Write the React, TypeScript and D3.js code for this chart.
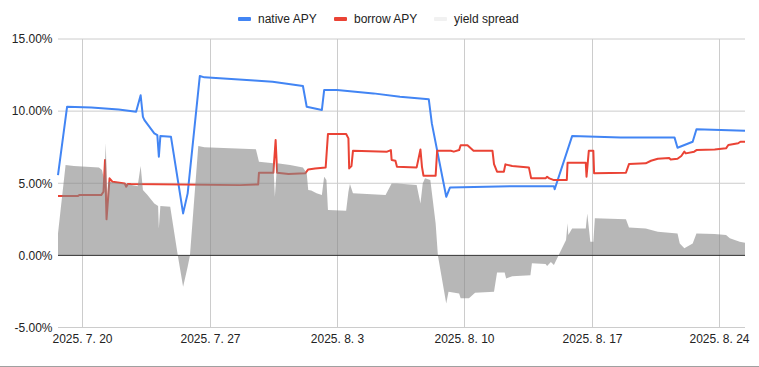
import { area, line, scaleLinear, scaleTime, timeFormat, timeParse, extent } from "d3";

const parse = timeParse("%Y-%m-%dT%H:%M");

const nativeApy: [string, number][] = [
  ["2025-07-18T16:00", 5.57],
  ["2025-07-19T04:00", 10.31],
  ["2025-07-20T12:00", 10.25],
  ["2025-07-22T00:00", 10.12],
  ["2025-07-22T23:00", 9.96],
  ["2025-07-23T05:00", 11.1],
  ["2025-07-23T08:00", 9.6],
  ["2025-07-23T10:00", 9.38],
  ["2025-07-23T23:00", 8.46],
  ["2025-07-24T03:00", 8.34],
  ["2025-07-24T05:00", 6.84],
  ["2025-07-24T07:00", 8.27],
  ["2025-07-24T21:00", 8.22],
  ["2025-07-25T13:00", 2.91],
  ["2025-07-25T19:00", 4.3],
  ["2025-07-26T11:00", 12.43],
  ["2025-07-26T17:00", 12.34],
  ["2025-07-29T11:00", 12.12],
  ["2025-07-30T11:00", 12.04],
  ["2025-08-01T03:00", 11.74],
  ["2025-08-01T08:00", 10.3],
  ["2025-08-02T04:00", 10.08],
  ["2025-08-02T07:00", 11.46],
  ["2025-08-03T00:00", 11.46],
  ["2025-08-05T00:00", 11.23],
  ["2025-08-06T11:00", 11.0],
  ["2025-08-08T01:00", 10.82],
  ["2025-08-08T05:00", 9.15],
  ["2025-08-09T00:00", 4.06],
  ["2025-08-09T05:00", 4.71],
  ["2025-08-12T17:00", 4.8],
  ["2025-08-14T22:00", 4.8],
  ["2025-08-14T23:00", 4.58],
  ["2025-08-15T22:00", 8.27],
  ["2025-08-18T14:00", 8.18],
  ["2025-08-21T13:00", 8.18],
  ["2025-08-21T17:00", 7.46],
  ["2025-08-22T13:00", 7.88],
  ["2025-08-22T18:00", 8.74],
  ["2025-08-25T10:00", 8.64],
];

const borrowApy: [string, number][] = [
  ["2025-07-18T16:00", 4.11],
  ["2025-07-19T18:00", 4.11],
  ["2025-07-19T20:00", 4.18],
  ["2025-07-21T01:00", 4.18],
  ["2025-07-21T04:00", 4.41],
  ["2025-07-21T06:00", 6.61],
  ["2025-07-21T08:00", 2.5],
  ["2025-07-21T12:00", 5.34],
  ["2025-07-21T16:00", 5.1],
  ["2025-07-22T08:00", 4.98],
  ["2025-07-22T10:00", 4.76],
  ["2025-07-22T12:00", 4.95],
  ["2025-07-22T16:00", 4.94],
  ["2025-07-28T16:00", 4.87],
  ["2025-07-29T16:00", 4.92],
  ["2025-07-29T17:00", 5.73],
  ["2025-07-30T12:00", 5.73],
  ["2025-07-30T15:00", 8.0],
  ["2025-07-30T17:00", 5.73],
  ["2025-07-31T08:00", 5.64],
  ["2025-08-01T06:00", 5.69],
  ["2025-08-01T10:00", 5.96],
  ["2025-08-01T19:00", 6.03],
  ["2025-08-02T09:00", 6.1],
  ["2025-08-02T12:00", 8.41],
  ["2025-08-03T12:00", 8.41],
  ["2025-08-03T15:00", 8.11],
  ["2025-08-03T16:00", 6.03],
  ["2025-08-03T19:00", 6.19],
  ["2025-08-03T21:00", 7.25],
  ["2025-08-05T18:00", 7.19],
  ["2025-08-05T23:00", 7.3],
  ["2025-08-06T00:00", 6.61],
  ["2025-08-06T05:00", 6.56],
  ["2025-08-06T07:00", 6.14],
  ["2025-08-07T09:00", 6.1],
  ["2025-08-07T14:00", 7.34],
  ["2025-08-07T16:00", 6.14],
  ["2025-08-07T18:00", 5.52],
  ["2025-08-08T10:00", 5.52],
  ["2025-08-08T12:00", 7.25],
  ["2025-08-09T06:00", 7.25],
  ["2025-08-09T10:00", 7.19],
  ["2025-08-09T17:00", 7.3],
  ["2025-08-09T19:00", 7.63],
  ["2025-08-10T04:00", 7.63],
  ["2025-08-10T12:00", 7.25],
  ["2025-08-11T13:00", 7.25],
  ["2025-08-11T15:00", 6.33],
  ["2025-08-11T19:00", 5.8],
  ["2025-08-12T04:00", 5.8],
  ["2025-08-12T06:00", 6.31],
  ["2025-08-12T15:00", 6.19],
  ["2025-08-13T13:00", 6.1],
  ["2025-08-13T16:00", 5.34],
  ["2025-08-14T11:00", 5.34],
  ["2025-08-14T13:00", 5.45],
  ["2025-08-14T16:00", 5.34],
  ["2025-08-14T22:00", 5.22],
  ["2025-08-15T15:00", 5.22],
  ["2025-08-15T16:00", 6.42],
  ["2025-08-16T16:00", 6.42],
  ["2025-08-16T17:00", 5.45],
  ["2025-08-16T20:00", 7.25],
  ["2025-08-17T02:00", 7.25],
  ["2025-08-17T03:00", 5.69],
  ["2025-08-18T21:00", 5.73],
  ["2025-08-19T01:00", 6.33],
  ["2025-08-19T23:00", 6.38],
  ["2025-08-20T06:00", 6.56],
  ["2025-08-20T15:00", 6.7],
  ["2025-08-21T06:00", 6.75],
  ["2025-08-21T08:00", 6.65],
  ["2025-08-21T17:00", 6.7],
  ["2025-08-21T22:00", 6.89],
  ["2025-08-22T02:00", 7.19],
  ["2025-08-22T04:00", 7.07],
  ["2025-08-22T15:00", 7.19],
  ["2025-08-22T18:00", 7.3],
  ["2025-08-23T18:00", 7.34],
  ["2025-08-24T09:00", 7.42],
  ["2025-08-24T12:00", 7.65],
  ["2025-08-25T01:00", 7.77],
  ["2025-08-25T04:00", 7.88],
  ["2025-08-25T10:00", 7.88],
];

const yieldSpread: [string, number][] = [
  ["2025-07-18T16:00", 1.52],
  ["2025-07-19T02:00", 6.26],
  ["2025-07-19T13:00", 6.19],
  ["2025-07-20T22:00", 6.1],
  ["2025-07-21T02:00", 5.92],
  ["2025-07-21T05:00", 5.22],
  ["2025-07-21T07:00", 7.77],
  ["2025-07-21T09:00", 3.6],
  ["2025-07-21T10:00", 5.1],
  ["2025-07-22T08:00", 4.99],
  ["2025-07-23T01:00", 4.8],
  ["2025-07-23T05:00", 6.19],
  ["2025-07-23T08:00", 4.53],
  ["2025-07-23T14:00", 4.18],
  ["2025-07-23T23:00", 3.6],
  ["2025-07-24T04:00", 3.42],
  ["2025-07-24T05:00", 1.87],
  ["2025-07-24T07:00", 3.42],
  ["2025-07-24T20:00", 3.37],
  ["2025-07-25T06:00", 0],
  ["2025-07-25T13:00", -2.18],
  ["2025-07-25T19:00", -0.79],
  ["2025-07-25T22:00", 0],
  ["2025-07-26T09:00", 7.58],
  ["2025-07-26T17:00", 7.49],
  ["2025-07-29T13:00", 7.35],
  ["2025-07-29T17:00", 6.49],
  ["2025-07-30T12:00", 6.38],
  ["2025-07-30T14:00", 4.06],
  ["2025-07-30T17:00", 6.38],
  ["2025-07-31T10:00", 6.26],
  ["2025-08-01T03:00", 6.1],
  ["2025-08-01T08:00", 5.69],
  ["2025-08-01T10:00", 4.53],
  ["2025-08-01T14:00", 4.5],
  ["2025-08-01T21:00", 4.3],
  ["2025-08-02T04:00", 4.18],
  ["2025-08-02T07:00", 5.45],
  ["2025-08-02T10:00", 5.22],
  ["2025-08-02T12:00", 3.14],
  ["2025-08-03T12:00", 3.09],
  ["2025-08-03T15:00", 4.41],
  ["2025-08-03T17:00", 4.94],
  ["2025-08-03T21:00", 4.3],
  ["2025-08-05T16:00", 4.18],
  ["2025-08-06T00:00", 4.99],
  ["2025-08-06T07:00", 4.99],
  ["2025-08-07T09:00", 4.88],
  ["2025-08-07T14:00", 3.6],
  ["2025-08-07T17:00", 4.99],
  ["2025-08-07T20:00", 5.34],
  ["2025-08-08T03:00", 5.22],
  ["2025-08-08T10:00", 2.22],
  ["2025-08-08T13:00", 0],
  ["2025-08-09T00:00", -3.33],
  ["2025-08-09T03:00", -2.52],
  ["2025-08-09T17:00", -2.64],
  ["2025-08-09T19:00", -2.98],
  ["2025-08-10T06:00", -2.98],
  ["2025-08-10T14:00", -2.59],
  ["2025-08-11T15:00", -2.52],
  ["2025-08-11T19:00", -1.18],
  ["2025-08-12T05:00", -1.18],
  ["2025-08-12T07:00", -1.6],
  ["2025-08-12T15:00", -1.44],
  ["2025-08-13T15:00", -1.37],
  ["2025-08-13T17:00", -0.55],
  ["2025-08-14T11:00", -0.6],
  ["2025-08-14T13:00", -0.74],
  ["2025-08-14T18:00", -0.46],
  ["2025-08-14T22:00", -0.67],
  ["2025-08-15T04:00", 0],
  ["2025-08-15T14:00", 1.06],
  ["2025-08-15T16:00", 2.22],
  ["2025-08-15T17:00", 1.41],
  ["2025-08-15T22:00", 1.87],
  ["2025-08-16T16:00", 1.87],
  ["2025-08-16T18:00", 2.91],
  ["2025-08-16T22:00", 0.94],
  ["2025-08-17T02:00", 0.94],
  ["2025-08-17T04:00", 2.57],
  ["2025-08-18T21:00", 2.5],
  ["2025-08-19T01:00", 1.94],
  ["2025-08-19T23:00", 1.87],
  ["2025-08-20T15:00", 1.64],
  ["2025-08-21T17:00", 1.52],
  ["2025-08-21T20:00", 0.83],
  ["2025-08-22T02:00", 0.49],
  ["2025-08-22T13:00", 0.83],
  ["2025-08-22T18:00", 1.52],
  ["2025-08-23T18:00", 1.48],
  ["2025-08-24T09:00", 1.41],
  ["2025-08-24T14:00", 1.18],
  ["2025-08-25T03:00", 0.94],
  ["2025-08-25T10:00", 0.87],
];

const xTicks = ["2025-07-20", "2025-07-27", "2025-08-03", "2025-08-10", "2025-08-17", "2025-08-24"];
const yTicks = [-5, 0, 5, 10, 15];

const legend = [
  { label: "native APY", color: "#4285f4", x: 238 },
  { label: "borrow APY", color: "#ea4335", x: 334 },
  { label: "yield spread", color: "#f1f1f1", x: 434 },
];

const font = "'Liberation Sans', Arial, sans-serif";

export default function App() {
  const width = 759;
  const height = 367;
  const left = 58;
  const right = 745;
  const top = 39;
  const bottom = 327.5;

  const toPoints = (rows: [string, number][]) => rows.map(([t, v]) => ({ t: parse(t) as Date, v }));
  const native = toPoints(nativeApy);
  const borrow = toPoints(borrowApy);
  const spread = toPoints(yieldSpread);

  const x = scaleTime()
    .domain(extent(native, (d) => d.t) as [Date, Date])
    .range([left, right]);
  const y = scaleLinear().domain([-5, 15]).range([bottom, top]);
  const fmt = timeFormat("%Y. %-m. %-d");

  const path = line<{ t: Date; v: number }>()
    .x((d) => x(d.t))
    .y((d) => y(d.v));
  const fill = area<{ t: Date; v: number }>()
    .x((d) => x(d.t))
    .y0(y(0))
    .y1((d) => y(d.v));

  return (
    <svg
      width={width}
      height={height}
      style={{ position: "absolute", left: 0, top: 0, background: "#fff" }}
      fontFamily={font}
    >
      {yTicks.map((v) => (
        <g key={v}>
          {v !== 0 && <line x1={left} x2={right} y1={y(v)} y2={y(v)} stroke="#cccccc" />}
          <text x={52.5} y={y(v)} dy="0.36em" textAnchor="end" fontSize={12} fill="#222">
            {v.toFixed(2)}%
          </text>
        </g>
      ))}
      {xTicks.map((s) => {
        const d = parse(s + "T00:00") as Date;
        const px = Math.round(x(d)) + 0.5;
        return (
          <g key={s}>
            <line x1={px} x2={px} y1={top} y2={bottom} stroke="#cccccc" />
            <text x={px} y={342.5} textAnchor="middle" fontSize={12} fill="#222">
              {fmt(d)}
            </text>
          </g>
        );
      })}
      <path d={path(native) ?? ""} fill="none" stroke="#4285f4" strokeWidth={2} strokeLinejoin="round" />
      <path d={path(borrow) ?? ""} fill="none" stroke="#ea4335" strokeWidth={2} strokeLinejoin="round" />
      <path d={fill(spread) ?? ""} fill="#878787" fillOpacity={0.6} />
      <line x1={left} x2={right} y1={y(0)} y2={y(0)} stroke="#333" />
      {legend.map((l) => (
        <g key={l.label}>
          <rect x={l.x} y={17} width={13} height={4} rx={1} fill={l.color} />
          <text x={l.x + 20} y={23} fontSize={12} fill="#222">
            {l.label}
          </text>
        </g>
      ))}
      <line x1={0} x2={width} y1={366.5} y2={366.5} stroke="#a0a0a0" />
    </svg>
  );
}
